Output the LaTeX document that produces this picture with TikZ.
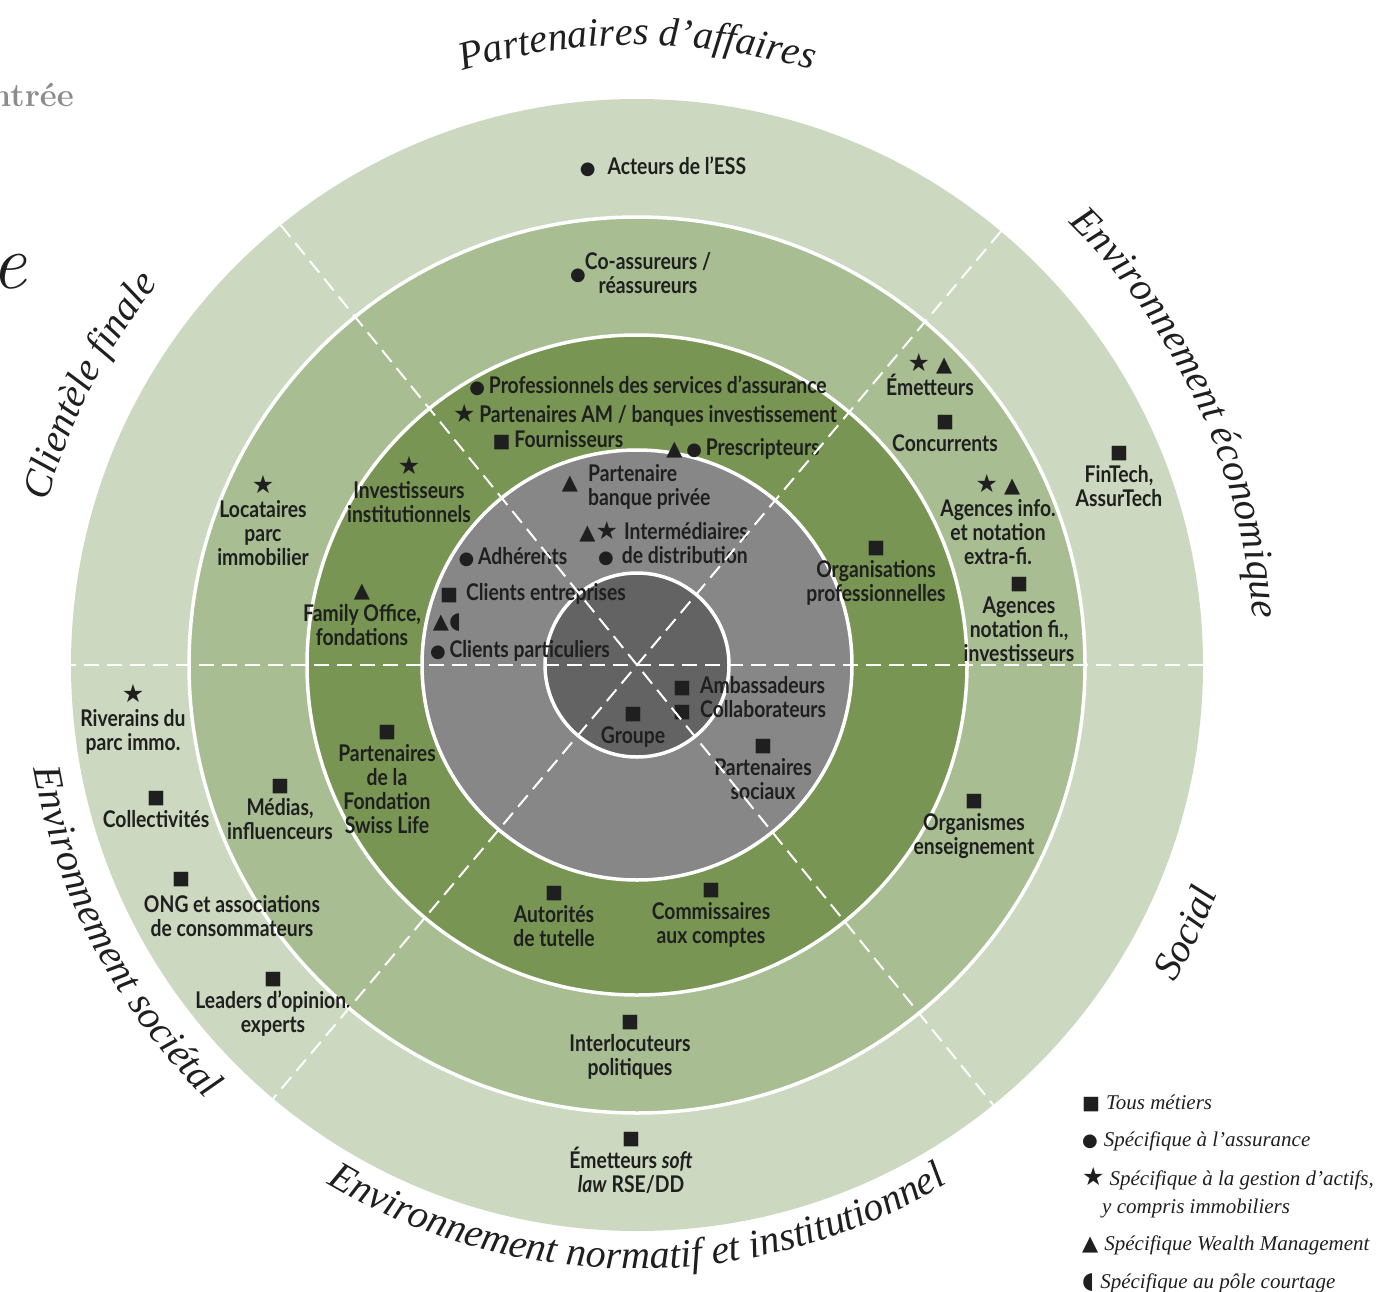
\documentclass[tikz,border=0pt]{standalone}
\usepackage{fontspec}
\usepackage{tikz}
\usepackage{xcolor}
\usetikzlibrary{decorations.text,calc}
\newfontfamily\lblfont[FakeStretch=0.84]{Lato}
\newfontfamily\serfont{Liberation Serif}
\newfontfamily\symf{DejaVu Sans}
\definecolor{ringA}{HTML}{CCD8BF}
\definecolor{ringB}{HTML}{A9BD93}
\definecolor{ringC}{HTML}{789553}
\definecolor{ringD}{HTML}{878787}
\definecolor{ringE}{HTML}{636363}
\definecolor{ink}{HTML}{1F1F1F}
\definecolor{fragment}{HTML}{8C8C8C}
\newcommand\msq{{\symf\fontsize{19}{19}\selectfont ■}}
\newcommand\mdot{{\symf\fontsize{18}{18}\selectfont ●}}
\newcommand\mstar{{\symf\fontsize{25}{19}\selectfont ★}}
\newcommand\mtri{{\symf\fontsize{21}{19}\selectfont ▲}}
\newcommand\mhalf{{\symf\fontsize{23}{19}\selectfont ◖}}
\newcommand\outfont{\serfont\fontsize{40}{42}\selectfont\itshape}
\begin{document}
\begin{tikzpicture}%
  [x=1pt,y=-1pt,
   lbl/.style={font=\lblfont\bfseries\fontsize{23}{24}\selectfont,text=ink,align=center,inner sep=0pt},
   legend/.style={font=\serfont\fontsize{21}{28}\selectfont\itshape,text=ink,align=left,anchor=west,inner sep=0pt}]
  \tikzstyle{ring line}=[white,line width=3.5pt]
  \tikzstyle{cut line}=[white,line width=2pt,dash pattern=on 15pt off 8pt]
  \tikzstyle{outer text}=[decorate,decoration={text along path,text align=center,text color=ink}]
  \useasboundingbox (0,0) rectangle (1383,1292);
  \coordinate (C) at (637,665);
  \fill[ringA] (C) circle[radius=566];
  \fill[ringB] (C) circle[radius=448];
  \fill[ringC] (C) circle[radius=330];
  \fill[ringD] (C) circle[radius=215];
  \fill[ringE] (C) circle[radius=92];
  \foreach \r in {448,330,215,92}
    \draw[ring line] (C) circle[radius=\r];
  \path[outer text,decoration={text={|\outfont|Partenaires d’affaires}}]
    ($(C)+(-125:620)$) arc[start angle=-125,end angle=-55,radius=620];
  \path[outer text,decoration={text={|\outfont|Environnement économique}}]
    ($(C)+(-62:618)$) arc[start angle=-62,end angle=12,radius=618];
  \path[outer text,decoration={text={|\outfont|Social}}]
    ($(C)+(45:624)$) arc[start angle=45,end angle=7,radius=624];
  \path[outer text,decoration={text={|\outfont|Environnement normatif et institutionnel}}]
    ($(C)+(-228:604)$) arc[start angle=-228,end angle=-312,radius=604];
  \path[outer text,decoration={text={|\outfont|Environnement sociétal}}]
    ($(C)+(-172:612)$) arc[start angle=-172,end angle=-243,radius=612];
  \path[outer text,decoration={text={|\outfont|Clientèle finale}}]
    ($(C)+(-188:612)$) arc[start angle=-188,end angle=-118,radius=612];
  \node[font=\fontsize{33}{33}\selectfont\bfseries,text=fragment,anchor=east,inner sep=0pt] (rentree) at (74,95) {ntrée};
  \node[font=\fontsize{78}{78}\selectfont\itshape,text=ink,anchor=east,inner sep=0pt] (bige) at (27,272) {e};
  \node[lbl] (ess) at (663,167) {\mdot\hspace{12pt}Acteurs de l’ESS};
  \node[lbl] (fintech) at (1119,476) {\msq\\FinTech,\\AssurTech};
  \node[lbl] (riverains) at (133,719) {\mstar\\Riverains du\\parc immo.};
  \node[lbl] (collect) at (156,809) {\msq\\Collectivités};
  \node[lbl] (ongsq) at (181,880) {\msq};
  \node[lbl] (ong) at (232,916) {ONG et associations\\de consommateurs};
  \node[lbl] (leaders) at (273,1004) {\msq\\Leaders d’opinion,\\experts};
  \node[lbl] (softlaw) at (631,1163) {\msq\\Émetteurs \textit{soft}\\\textit{law} RSE/DD};
  \node[lbl] (coassdot) at (578,276) {\mdot};
  \node[lbl] (coass) at (648,273) {Co-assureurs /\\réassureurs};
  \node[lbl] (locat) at (263,521) {\mstar\\Locataires\\parc\\immobilier};
  \node[lbl] (emet) at (930,375) {\mstar\hspace{6pt}\mtri\\Émetteurs};
  \node[lbl] (concur) at (945,433) {\msq\\Concurrents};
  \node[lbl] (agextra) at (998,520) {\mstar\hspace{6pt}\mtri\\Agences info.\\et notation\\extra-fi.};
  \node[lbl] (agfi) at (1019,619) {\msq\\Agences\\notation fi.,\\investisseurs};
  \node[lbl] (medias) at (280,809) {\msq\\Médias,\\influenceurs};
  \node[lbl] (interloc) at (630,1047) {\msq\\Interlocuteurs\\politiques};
  \node[lbl] (organ) at (974,826) {\msq\\Organismes\\enseignement};
  \node[lbl] (prof) at (648,386) {\mdot\,Professionnels des services d’assurance};
  \node[lbl] (pam) at (645,415) {\mstar\,Partenaires AM / banques investissement};
  \node[lbl] (fourn) at (558,440) {\msq\,Fournisseurs};
  \node[lbl] (prescr) at (743,449) {\mtri\,\mdot\,Prescripteurs};
  \node[lbl] (invest) at (409,490) {\mstar\\Investisseurs\\institutionnels};
  \node[lbl] (family) at (362,615) {\mtri\\Family Office,\\fondations};
  \node[lbl] (orgpro) at (876,573) {\msq\\Organisations\\professionnelles};
  \node[lbl] (fondsl) at (387,779) {\msq\\Partenaires\\de la\\Fondation\\Swiss Life};
  \node[lbl] (autor) at (554,916) {\msq\\Autorités\\de tutelle};
  \node[lbl] (commis) at (711,915) {\msq\\Commissaires\\aux comptes};
  \node[lbl] (pbptri) at (570,484) {\mtri};
  \node[lbl,align=left,anchor=west] (pbp) at (588,487) {Partenaire\\banque privée};
  \node[lbl,align=right,anchor=east] (interm) at (748,544) {\mtri\mstar\hspace{6pt}Intermédiaires\\\mdot\hspace{8pt}de distribution};
  \node[lbl] (adher) at (513,557) {\mdot\,Adhérents};
  \node[lbl] (clent) at (533,594) {\msq\hspace{8pt}Clients entreprises};
  \node[lbl] (trihalf) at (447,623) {\mtri\mhalf};
  \node[lbl] (clpart) at (520,651) {\mdot\,Clients particuliers};
  \node[lbl,align=left,anchor=west] (ambas) at (673,698) {\msq\hspace{9pt}Ambassadeurs\\\msq\hspace{9pt}Collaborateurs};
  \node[lbl] (psoc) at (763,769) {\msq\\Partenaires\\sociaux};
  \node[lbl] (groupe) at (633,727) {\msq\\Groupe};
  \foreach \a in {0,50,129}
    \draw[cut line] ($(C)+({-\a}:566)$) -- ($(C)+({180-\a}:566)$);
  \node[legend] (lg1) at (1082,1103) {\msq\hspace{6pt}Tous métiers};
  \node[legend] (lg2) at (1082,1141) {\mdot\hspace{6pt}Spécifique à l’assurance};
  \node[legend] (lg3) at (1082,1193) {\mstar\hspace{5pt}Spécifique à la gestion d’actifs,\\\hspace*{20pt}y compris immobiliers};
  \node[legend] (lg4) at (1082,1245) {\mtri\hspace{6pt}Spécifique Wealth Management};
  \node[legend] (lg5) at (1082,1283) {\mhalf\hspace{6pt}Spécifique au pôle courtage};
\end{tikzpicture}
\end{document}
